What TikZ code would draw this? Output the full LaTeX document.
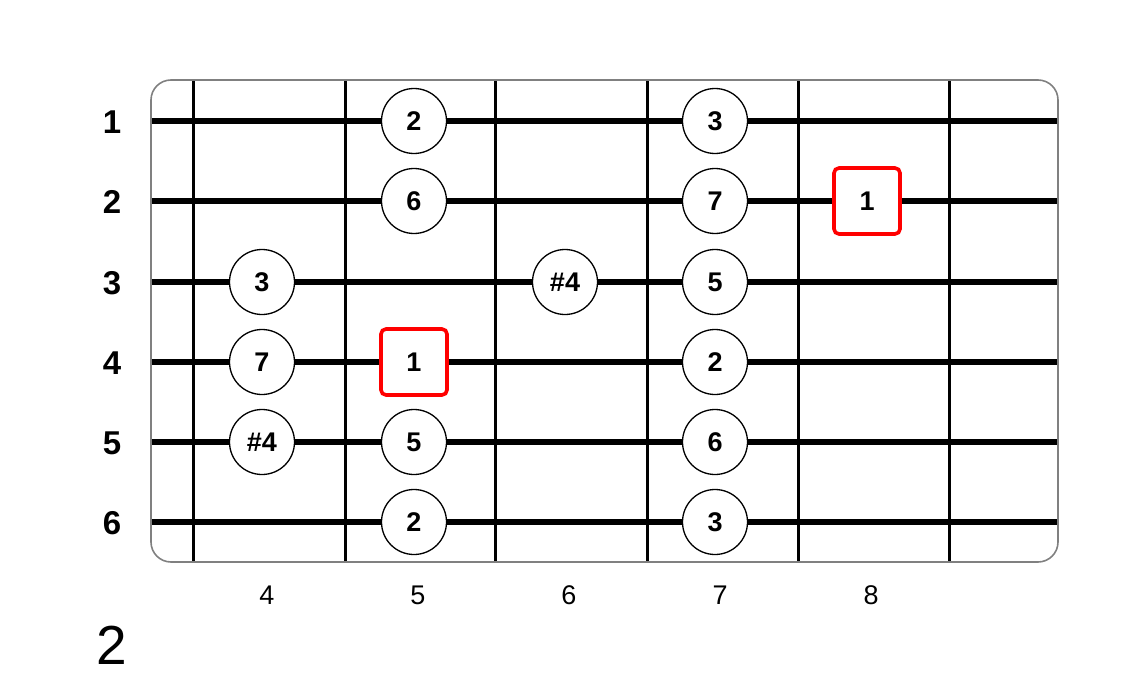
\documentclass[tikz,border=0pt]{standalone}
\usepackage{fontspec}
\setmainfont{Liberation Sans}
\usetikzlibrary{positioning}
\tikzset{
    x=1pt, y=-1pt,
    string/.style={line width=5.5pt, black},
    fret/.style={line width=3pt, black},
    note/.style={circle, draw, line width=1.3pt, fill=white, minimum size=65pt,
        inner sep=0pt, font=\fontsize{27}{27}\selectfont\bfseries},
    root/.style={rectangle, rounded corners=5pt, draw=red, line width=3.6pt, fill=white,
        minimum size=66pt, inner sep=0pt, font=\fontsize{27}{27}\selectfont\bfseries},
    strlabel/.style={font=\fontsize{33}{33}\selectfont\bfseries},
    fretlabel/.style={font=\fontsize{27}{27}\selectfont},
}

\begin{document}
\begin{tikzpicture}
    \useasboundingbox (0,0) rectangle (1132,682);

    % frets
    \draw[fret] (193,80) -- (193,562);
    \draw[fret] (345,80) -- (345,562);
    \draw[fret] (495,80) -- (495,562);
    \draw[fret] (647,80) -- (647,562);
    \draw[fret] (798,80) -- (798,562);
    \draw[fret] (949,80) -- (949,562);

    % strings
    \draw[string] (151,121) -- (1058,121);
    \draw[string] (151,201) -- (1058,201);
    \draw[string] (151,282) -- (1058,282);
    \draw[string] (151,362) -- (1058,362);
    \draw[string] (151,442) -- (1058,442);
    \draw[string] (151,522) -- (1058,522);

    % board outline
    \draw[gray, line width=1.6pt, rounded corners=20pt] (151,80) rectangle (1058,562);

    % string numbers
    \node[strlabel] (s1) at (112,122) {1};
    \node[strlabel] (s2) at (112,202) {2};
    \node[strlabel] (s3) at (112,283) {3};
    \node[strlabel] (s4) at (112,363) {4};
    \node[strlabel] (s5) at (112,443) {5};
    \node[strlabel] (s6) at (112,523) {6};

    % fret numbers
    \node[fretlabel] (f4) at (267,595) {4};
    \node[fretlabel] (f5) at (418,595) {5};
    \node[fretlabel] (f6) at (569,595) {6};
    \node[fretlabel] (f7) at (720,595) {7};
    \node[fretlabel] (f8) at (871,595) {8};

    % position
    \node[font=\fontsize{55}{55}\selectfont] (pos) at (112,645) {2};

    % notes
    \node[note] (n15) at (414,121) {2};
    \node[note] (n17) at (715,121) {3};
    \node[note] (n25) at (414,201) {6};
    \node[note] (n27) at (715,201) {7};
    \node[root] (n28) at (867,201) {1};
    \node[note] (n34) at (262,282) {3};
    \node[note] (n36) at (565,282) {\#4};
    \node[note] (n37) at (715,282) {5};
    \node[note] (n44) at (262,362) {7};
    \node[root] (n45) at (414,362) {1};
    \node[note] (n47) at (715,362) {2};
    \node[note] (n54) at (262,442) {\#4};
    \node[note] (n55) at (414,442) {5};
    \node[note] (n57) at (715,442) {6};
    \node[note] (n65) at (414,522) {2};
    \node[note] (n67) at (715,522) {3};
\end{tikzpicture}
\end{document}
